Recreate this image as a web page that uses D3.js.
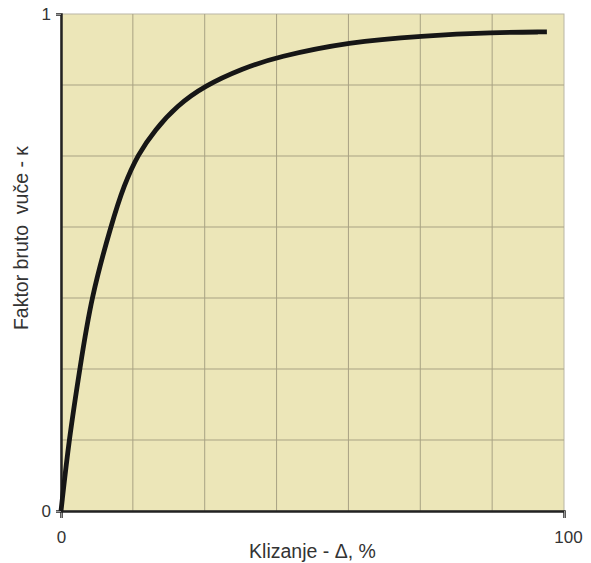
<!DOCTYPE html>
<html>
<head>
<meta charset="utf-8">
<script src="https://cdn.jsdelivr.net/npm/d3@7"></script>
<style>
  body { margin: 0; background: #fff; }
  text { font-family: "Liberation Sans", Arial, sans-serif; fill: #333; }
</style>
</head>
<body>
<svg width="591" height="563"></svg>
<script>
// slip (%) and gross traction factor
const slip = [0, 1.6, 3.8, 6.0, 10.1, 12.5, 15.3, 18.7, 23.0, 28.6, 36.0, 43.0, 57.3, 71.7, 85.9, 96.6];
const kappa = [0, 0.145, 0.29, 0.43, 0.58, 0.655, 0.718, 0.767, 0.815, 0.856, 0.890, 0.914, 0.944, 0.956, 0.963, 0.964];
const xTicks = [0, 100];
const yTicks = [0, 1];
const gridDivisions = 7;

const svg = d3.select("svg");
const margin = { top: 14, right: 27, bottom: 52, left: 61 };
const width = +svg.attr("width") - margin.left - margin.right;
const height = +svg.attr("height") - margin.top - margin.bottom;

const g = svg.append("g").attr("transform", `translate(${margin.left},${margin.top})`);

const x = d3.scaleLinear().domain([0, 100]).range([0, width]);
const y = d3.scaleLinear().domain([0, 1]).range([height, 0]);

g.append("rect")
  .attr("width", width)
  .attr("height", height)
  .attr("fill", "#ece6b8")
  .attr("stroke", "#b9b6a6")
  .attr("stroke-width", 1);

const gridX = d3.range(1, gridDivisions).map(i => i * 100 / gridDivisions);
const gridY = d3.range(1, gridDivisions).map(i => i / gridDivisions);

g.selectAll(".vgrid")
  .data(gridX)
  .join("line")
  .attr("class", "vgrid")
  .attr("x1", d => x(d)).attr("x2", d => x(d))
  .attr("y1", 0).attr("y2", height)
  .attr("stroke", "#a8a283")
  .attr("stroke-width", 1);

g.selectAll(".hgrid")
  .data(gridY)
  .join("line")
  .attr("class", "hgrid")
  .attr("x1", 0).attr("x2", width)
  .attr("y1", d => y(d)).attr("y2", d => y(d))
  .attr("stroke", "#a8a283")
  .attr("stroke-width", 1);

// axes
const xAxis = g.append("g")
  .attr("transform", `translate(0,${height})`)
  .call(d3.axisBottom(x).tickValues(xTicks).tickSize(7).tickPadding(13).tickFormat(d3.format("d")));
const yAxis = g.append("g")
  .call(d3.axisLeft(y).tickValues(yTicks).tickSize(5).tickPadding(5).tickFormat(d3.format("d")));

[xAxis, yAxis].forEach(a => {
  a.select(".domain").attr("stroke", "#222").attr("stroke-width", 2.5);
  a.selectAll(".tick line").attr("stroke", "#999");
  a.selectAll(".tick text")
    .attr("font-family", "Liberation Sans, Arial, sans-serif")
    .attr("font-size", 17)
    .attr("fill", "#333");
});
xAxis.selectAll(".tick text").filter(d => d === 100).attr("dx", 4);

const line = d3.line()
  .x((d, i) => x(slip[i]))
  .y(d => y(d))
  .curve(d3.curveBasis);

g.append("path")
  .datum(kappa)
  .attr("fill", "none")
  .attr("stroke", "#161616")
  .attr("stroke-width", 4.8)
  .attr("stroke-linecap", "butt")
  .attr("d", line);

g.append("text")
  .attr("x", width / 2)
  .attr("y", height + 47)
  .attr("text-anchor", "middle")
  .attr("font-size", 19.5)
  .text("Klizanje - Δ, %");

g.append("text")
  .attr("transform", "rotate(-90)")
  .attr("x", -224)
  .attr("y", -33)
  .attr("text-anchor", "middle")
  .attr("font-size", 19.5)
  .style("white-space", "pre")
  .text("Faktor bruto  vuče - κ");
</script>
</body>
</html>
